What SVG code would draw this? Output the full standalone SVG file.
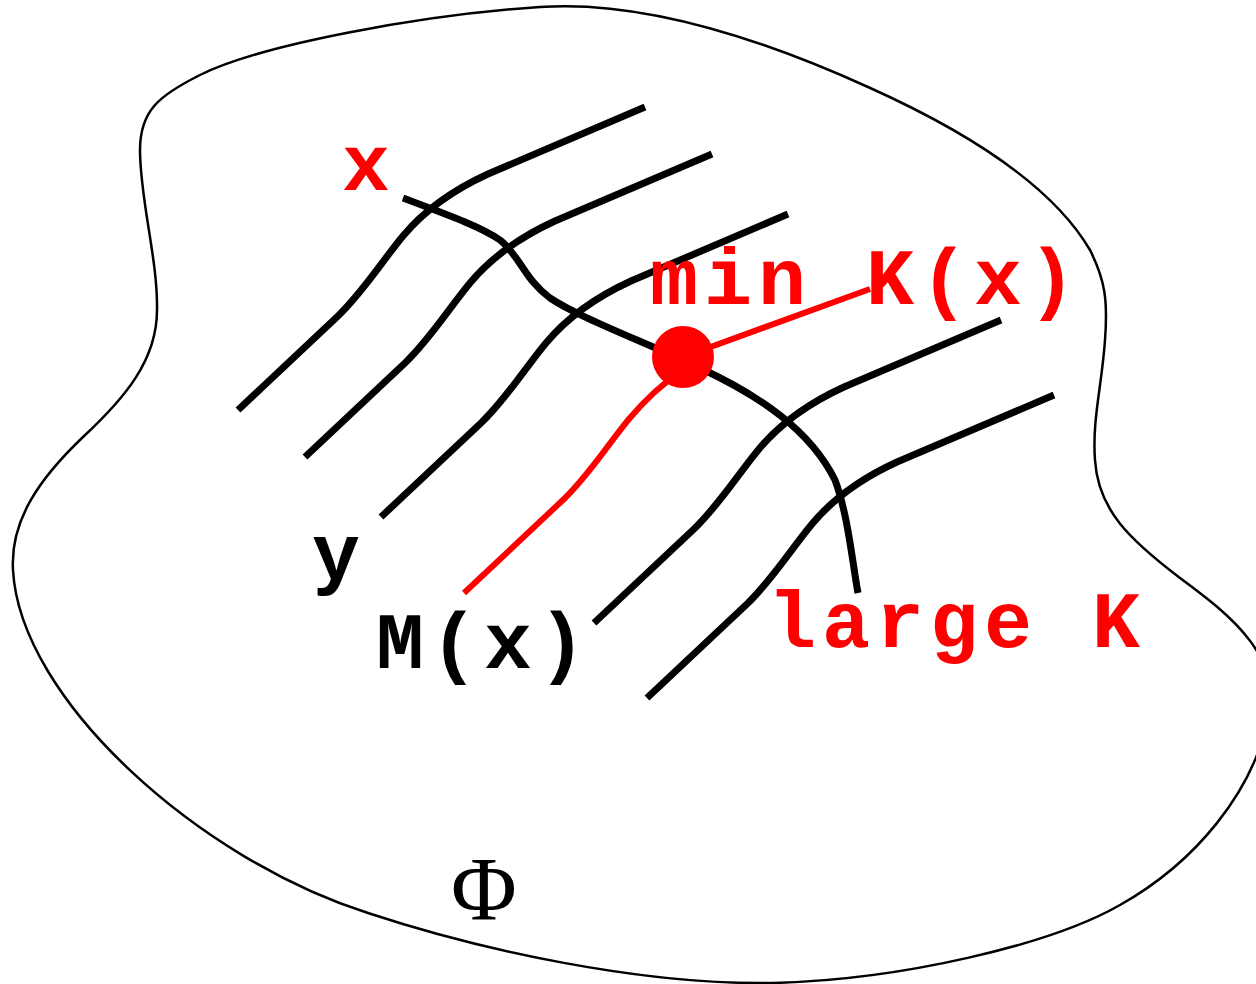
<svg xmlns="http://www.w3.org/2000/svg" width="1256" height="984" viewBox="0 0 1256 984">
<style>
.blob{fill:none;stroke:#000;stroke-width:2.5}
.lvl{fill:none;stroke:#000;stroke-width:7}
.red{fill:none;stroke:#f00;stroke-width:6}
.mono{font-family:"Liberation Mono","Courier New",monospace;font-weight:bold;font-size:80px;letter-spacing:6px}
.rt{fill:#f00}
.bt{fill:#000}
.phi{font-family:"Liberation Serif","Times New Roman",serif;font-size:90px;fill:#000}
</style>
<defs>
<path id="lc" d="M0,0 L100,-94 C125,-118 145,-150 165,-174 C185,-198 215,-220 250,-236 L407,-303"/>
</defs>
<rect width="1256" height="984" fill="#fff"/>
<g id="domain">
<path class="blob" d="M540,7 C640,0 760,38 868,87 C975,135 1055,190 1090,250 C1105,280 1108,300 1105,340 C1102,385 1092,420 1095,460 C1098,510 1130,540 1180,578 C1230,615 1290,660 1265,730 C1250,790 1200,860 1120,905 C1050,945 900,980 772,983 C640,985 480,950 368,913 C200,860 20,700 13,570 C10,520 40,478 83,437 C125,398 157,360 157,310 C158,260 140,200 140,150 C140,110 160,95 200,75 C260,45 420,15 540,7 Z"/>
</g>
<g id="connectors">
<use href="#lc" class="lvl" x="238" y="410"/>
<use href="#lc" class="lvl" x="305" y="457"/>
<use href="#lc" class="lvl" x="381" y="517"/>
<use href="#lc" class="lvl" x="594" y="623"/>
<use href="#lc" class="lvl" x="647" y="698"/>
<path class="lvl" d="M403,198 C440,212 480,226 500,240 C520,256 525,280 550,298 C580,318 640,340 700,368 C760,396 810,430 835,480 C848,515 852,560 858,593"/>
<path class="red" d="M464,593 L564,499 C589,475 609,443 629,419 C645,400 660,385 683,370"/>
<path class="red" d="M683,357 L870,289"/>
</g>
<g id="min-point">
<circle cx="683" cy="357" r="31" fill="#f00"/>
</g>
<g id="labels">
<text class="mono rt" x="342" y="190">x</text>
<text class="mono rt" x="650" y="304">min K(x)</text>
<text class="mono bt" x="312" y="579">y</text>
<text class="mono bt" x="376" y="668">M(x)</text>
<text class="mono rt" x="768" y="647">large K</text>
<text class="phi" x="484" y="920" text-anchor="middle">Φ</text>
</g>
</svg>
